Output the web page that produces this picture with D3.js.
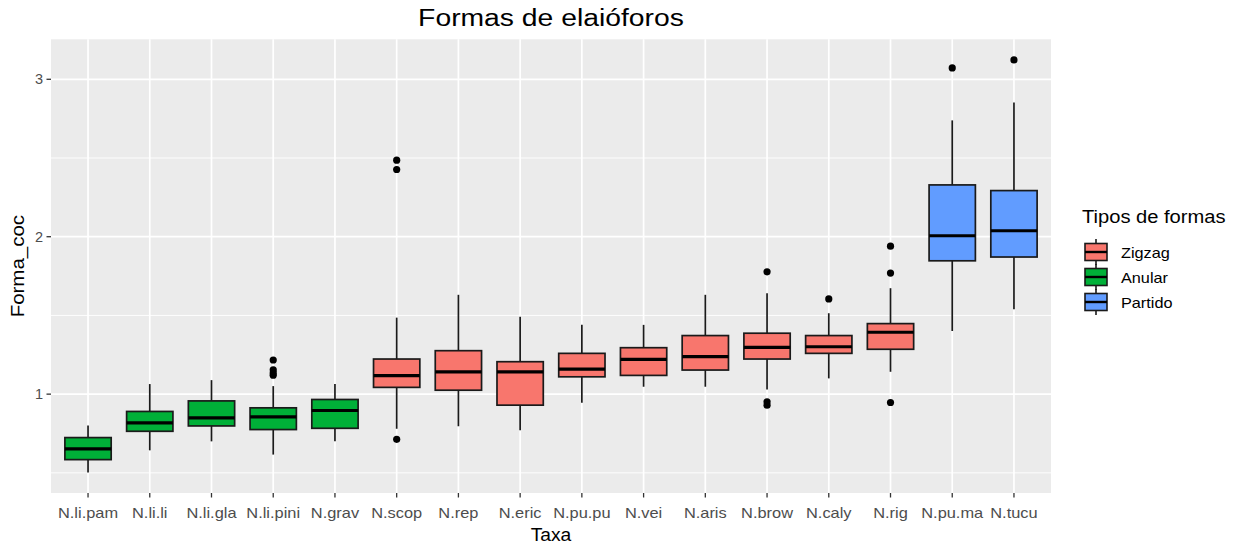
<!DOCTYPE html>
<html>
<head>
<meta charset="utf-8">
<script src="https://cdn.jsdelivr.net/npm/d3@7"></script>
<style>
  html, body { margin: 0; padding: 0; background: #ffffff; }
  svg { display: block; font-family: "Liberation Sans", Arial, sans-serif; }
</style>
</head>
<body>
<svg id="chart" width="1233" height="546"></svg>
<script>
// ---- data ----
const categories = ["N.li.pam","N.li.li","N.li.gla","N.li.pini","N.grav","N.scop","N.rep","N.eric","N.pu.pu","N.vei","N.aris","N.brow","N.caly","N.rig","N.pu.ma","N.tucu"];
const groups     = ["Anular","Anular","Anular","Anular","Anular","Zigzag","Zigzag","Zigzag","Zigzag","Zigzag","Zigzag","Zigzag","Zigzag","Zigzag","Partido","Partido"];
const whiskerLow = [0.503, 0.643, 0.700, 0.616, 0.700, 0.780, 0.796, 0.771, 0.945, 1.047, 1.047, 1.030, 1.100, 1.142, 1.401, 1.540];
const q1         = [0.584, 0.764, 0.798, 0.775, 0.783, 1.043, 1.025, 0.930, 1.110, 1.119, 1.153, 1.223, 1.259, 1.285, 1.847, 1.871];
const medians    = [0.652, 0.817, 0.849, 0.856, 0.896, 1.117, 1.142, 1.142, 1.159, 1.221, 1.238, 1.297, 1.301, 1.393, 2.006, 2.038];
const q3         = [0.724, 0.890, 0.957, 0.913, 0.966, 1.223, 1.276, 1.206, 1.259, 1.295, 1.372, 1.387, 1.372, 1.448, 2.329, 2.293];
const whiskerHigh= [0.800, 1.064, 1.089, 1.051, 1.064, 1.486, 1.631, 1.492, 1.440, 1.440, 1.631, 1.641, 1.514, 1.673, 2.739, 2.852];
const outliers   = [[], [], [], [1.217, 1.155, 1.135, 1.120], [], [2.486, 2.427, 0.713], [], [], [], [], [], [1.777, 0.951, 0.930], [1.605], [1.940, 1.769, 0.947], [3.072], [3.123]];
const legendGroups = ["Zigzag","Anular","Partido"];
const groupColors  = ["#F8766D","#00B038","#619CFF"];
const yTicks = [1, 2, 3];
const yMinor = [0.5, 1.5, 2.5];
const titleText = "Formas de elaióforos";
const xTitle = "Taxa";
const yTitle = "Forma_coc";
const legendTitle = "Tipos de formas";

// ---- layout ----
const svg = d3.select("#chart");
const panel = { left: 51, right: 1051, top: 39.3, bottom: 493 };

const color = d3.scaleOrdinal().domain(legendGroups).range(groupColors);

// ggplot discrete expansion of 0.6 units each side
const x = d3.scalePoint().domain(categories)
  .range([panel.left, panel.right]).padding(0.6);
const step = x.step();

const allVals = whiskerLow.concat(whiskerHigh, outliers.flat());
const lo = d3.min(allVals), hi = d3.max(allVals);
const pad = (hi - lo) * 0.05;
const y = d3.scaleLinear().domain([lo - pad, hi + pad]).range([panel.bottom, panel.top]);

function stretch(sel, k) {
  sel.each(function() {
    const len = this.getComputedTextLength();
    d3.select(this).attr("textLength", len * k).attr("lengthAdjust", "spacingAndGlyphs");
  });
}

// panel background
svg.append("rect")
  .attr("x", panel.left).attr("y", panel.top)
  .attr("width", panel.right - panel.left).attr("height", panel.bottom - panel.top)
  .attr("fill", "#EBEBEB");

// minor gridlines
svg.append("g").selectAll("line").data(yMinor).join("line")
  .attr("x1", panel.left).attr("x2", panel.right)
  .attr("y1", d => y(d)).attr("y2", d => y(d))
  .attr("stroke", "#ffffff").attr("stroke-width", 0.9);

// major gridlines
svg.append("g").selectAll("line").data(yTicks).join("line")
  .attr("x1", panel.left).attr("x2", panel.right)
  .attr("y1", d => y(d)).attr("y2", d => y(d))
  .attr("stroke", "#ffffff").attr("stroke-width", 1.7);
svg.append("g").selectAll("line").data(categories).join("line")
  .attr("x1", d => x(d)).attr("x2", d => x(d))
  .attr("y1", panel.top).attr("y2", panel.bottom)
  .attr("stroke", "#ffffff").attr("stroke-width", 1.7);

// boxes
const boxW = step * 0.75;
const data = categories.map((c, i) => ({
  c, g: groups[i], lo: whiskerLow[i], q1: q1[i], med: medians[i], q3: q3[i], hi: whiskerHigh[i], out: outliers[i]
}));
const bg = svg.append("g");
const box = bg.selectAll("g").data(data).join("g");
box.append("line")
  .attr("x1", d => x(d.c)).attr("x2", d => x(d.c))
  .attr("y1", d => y(d.hi)).attr("y2", d => y(d.q3))
  .attr("stroke", "#1a1a1a").attr("stroke-width", 1.7);
box.append("line")
  .attr("x1", d => x(d.c)).attr("x2", d => x(d.c))
  .attr("y1", d => y(d.q1)).attr("y2", d => y(d.lo))
  .attr("stroke", "#1a1a1a").attr("stroke-width", 1.7);
box.append("rect")
  .attr("x", d => x(d.c) - boxW / 2).attr("width", boxW)
  .attr("y", d => y(d.q3)).attr("height", d => y(d.q1) - y(d.q3))
  .attr("fill", d => color(d.g)).attr("stroke", "#1a1a1a").attr("stroke-width", 1.7);
box.append("line")
  .attr("x1", d => x(d.c) - boxW / 2).attr("x2", d => x(d.c) + boxW / 2)
  .attr("y1", d => y(d.med)).attr("y2", d => y(d.med))
  .attr("stroke", "#000000").attr("stroke-width", 3.2);
box.selectAll("circle").data(d => d.out.map(v => ({ c: d.c, v }))).join("circle")
  .attr("cx", d => x(d.c)).attr("cy", d => y(d.v)).attr("r", 3.6)
  .attr("fill", "#000000");

// axes ticks
svg.append("g").selectAll("line").data(categories).join("line")
  .attr("x1", d => x(d)).attr("x2", d => x(d))
  .attr("y1", panel.bottom).attr("y2", panel.bottom + 4.5)
  .attr("stroke", "#333333").attr("stroke-width", 1.3);
svg.append("g").selectAll("line").data(yTicks).join("line")
  .attr("x1", panel.left - 4.5).attr("x2", panel.left)
  .attr("y1", d => y(d)).attr("y2", d => y(d))
  .attr("stroke", "#333333").attr("stroke-width", 1.3);

// tick labels
const xl = svg.append("g").selectAll("text").data(categories).join("text")
  .attr("x", d => x(d)).attr("y", 518)
  .attr("text-anchor", "middle").attr("font-size", 14.5).attr("fill", "#4D4D4D")
  .text(d => d);
stretch(xl, 1.13);
svg.append("g").selectAll("text").data(yTicks).join("text")
  .attr("x", panel.left - 8).attr("y", d => y(d) + 5)
  .attr("text-anchor", "end").attr("font-size", 14.5).attr("fill", "#4D4D4D")
  .text(d => d3.format("d")(d));

// titles
const t = svg.append("text")
  .attr("x", (panel.left + panel.right) / 2).attr("y", 26)
  .attr("text-anchor", "middle").attr("font-size", 23).attr("fill", "#000000")
  .text(titleText);
stretch(t, 1.23);
const xt = svg.append("text")
  .attr("x", (panel.left + panel.right) / 2).attr("y", 541)
  .attr("text-anchor", "middle").attr("font-size", 17.5).attr("fill", "#000000")
  .text(xTitle);
stretch(xt, 1.1);
const yt = svg.append("text")
  .attr("transform", `translate(24,${(panel.top + panel.bottom) / 2}) rotate(-90)`)
  .attr("text-anchor", "middle").attr("font-size", 17.5).attr("fill", "#000000")
  .text(yTitle);
stretch(yt, 1.17);

// legend
const lt = svg.append("text")
  .attr("x", 1082).attr("y", 223)
  .attr("font-size", 17.5).attr("fill", "#000000")
  .text(legendTitle);
stretch(lt, 1.15);
const leg = svg.append("g").selectAll("g").data(legendGroups).join("g")
  .attr("transform", (d, i) => `translate(1096,${252 + i * 25})`);
leg.append("line").attr("x1", 0).attr("x2", 0).attr("y1", -13).attr("y2", 13)
  .attr("stroke", "#1a1a1a").attr("stroke-width", 1.6);
leg.append("rect").attr("x", -11).attr("y", -8.5).attr("width", 22).attr("height", 17)
  .attr("fill", d => color(d)).attr("stroke", "#1a1a1a").attr("stroke-width", 1.6);
leg.append("line").attr("x1", -11).attr("x2", 11).attr("y1", 0).attr("y2", 0)
  .attr("stroke", "#000000").attr("stroke-width", 2.4);
const ll = leg.append("text").attr("x", 25).attr("y", 5.5)
  .attr("font-size", 14.5).attr("fill", "#000000").text(d => d);
stretch(ll, 1.12);
</script>
</body>
</html>
